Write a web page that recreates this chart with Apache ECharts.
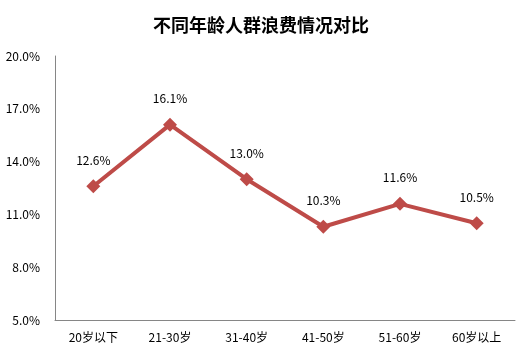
<!DOCTYPE html>
<html><head><meta charset="utf-8">
<script src="https://cdn.jsdelivr.net/npm/echarts@6/dist/echarts.min.js"></script>
<style>html,body{margin:0;padding:0;background:#fff}#c{width:522px;height:359px}</style>
</head><body><div id="c"></div>
<script>
const title = '不同年龄人群浪费情况对比';
const categories = ['20岁以下','21-30岁','31-40岁','41-50岁','51-60岁','60岁以上'];
const values = [12.6, 16.1, 13.0, 10.3, 11.6, 10.5];
const yMin = 5, yMax = 20, yStep = 3;
const font = '"Microsoft YaHei","Noto Sans CJK SC","DejaVu Sans",sans-serif';
const chart = echarts.init(document.getElementById('c'));
chart.setOption({
  animation:false,
  title:{text:title,left:'center',top:11,textStyle:{fontSize:18,fontWeight:'bold',color:'#000',fontFamily:'"Noto Sans CJK SC",sans-serif'}},
  grid:{left:55,right:7,top:56,bottom:39},
  xAxis:{type:'category',data:categories,boundaryGap:true,
    axisLine:{lineStyle:{color:'#868686',width:1}},axisTick:{show:false},
    axisLabel:{color:'#000',fontSize:12,margin:11,fontFamily:font}},
  yAxis:{type:'value',min:yMin,max:yMax,interval:yStep,
    axisLine:{show:true,lineStyle:{color:'#868686',width:1}},axisTick:{show:false},
    splitLine:{show:false},
    axisLabel:{color:'#000',fontSize:12,margin:15,fontFamily:font,formatter:v=>v.toFixed(1)+'%'}},
  series:[{type:'line',data:values,symbol:'diamond',symbolSize:14,
    lineStyle:{color:'#BE4B48',width:4},itemStyle:{color:'#BE4B48'},
    label:{show:true,position:'top',distance:13,color:'#000',fontSize:12,fontFamily:font,formatter:p=>p.value.toFixed(1)+'%'}}]
});
</script></body></html>
